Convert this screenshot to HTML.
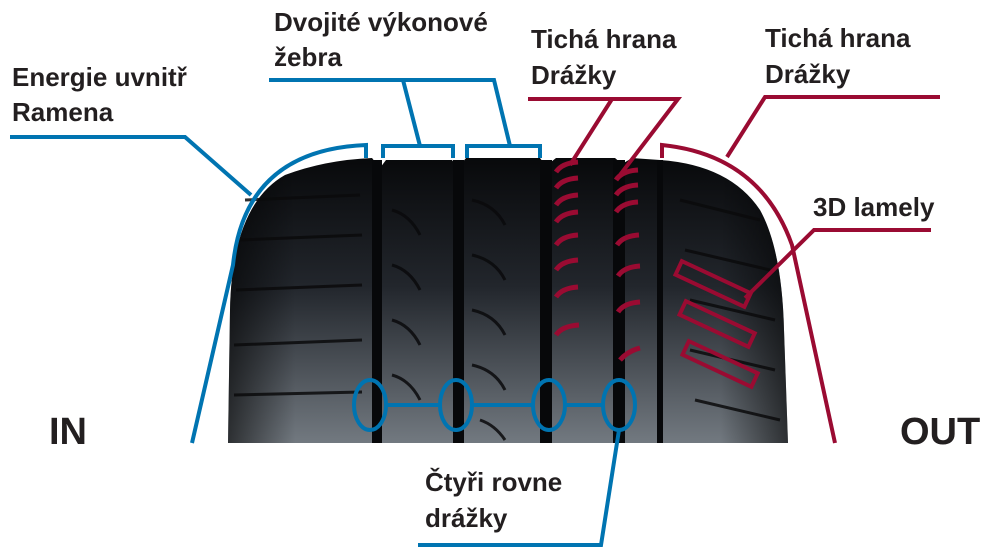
<!DOCTYPE html>
<html><head><meta charset="utf-8"><style>
html,body{margin:0;padding:0;background:#fff;}
svg{display:block;}
text{font-family:"Liberation Sans",sans-serif;font-weight:bold;fill:#231f20;}
</style></head><body>
<svg width="995" height="553" viewBox="0 0 995 553" xmlns="http://www.w3.org/2000/svg">
<defs>
<linearGradient id="tg" x1="0" y1="0" x2="0" y2="1">
<stop offset="0" stop-color="#08090b"/><stop offset="0.45" stop-color="#22262c"/><stop offset="1" stop-color="#727980"/>
</linearGradient>
<linearGradient id="hg" x1="0" y1="0" x2="1" y2="0">
<stop offset="0" stop-color="#000" stop-opacity="0.6"/><stop offset="0.12" stop-color="#000" stop-opacity="0"/>
<stop offset="0.88" stop-color="#000" stop-opacity="0"/><stop offset="1" stop-color="#000" stop-opacity="0.6"/>
</linearGradient>
</defs>
<path d="M228,443 L230,310 Q232,205 285,175 Q325,160 372,158 L380,168 L386,160 L452,160 L458,168 L466,158 L540,158 L546,166 L556,158 L615,158 L622,164 L632,158 L660,160 Q730,165 760,210 Q782,250 784,330 L788,443 Z" fill="url(#tg)"/>
<path d="M228,443 L230,310 Q232,205 285,175 Q325,160 372,158 L380,168 L386,160 L452,160 L458,168 L466,158 L540,158 L546,166 L556,158 L615,158 L622,164 L632,158 L660,160 Q730,165 760,210 Q782,250 784,330 L788,443 Z" fill="url(#hg)"/>
<g fill="#07080a">
<rect x="372" y="160" width="10" height="283"/>
<rect x="453" y="160" width="11" height="283"/>
<rect x="540" y="160" width="12" height="283"/>
<rect x="613" y="160" width="12" height="283"/>
<rect x="657" y="160" width="6" height="283"/>
</g>
<g stroke="#0a0a0c" stroke-width="3" fill="none" opacity="0.85">
<path d="M245,200 L360,195 M240,240 L362,235 M236,290 L362,285 M234,345 L362,340 M234,395 L362,392"/>
<path d="M392,210 Q410,215 420,235 M392,265 Q410,270 420,290 M392,320 Q410,325 420,345 M392,375 Q410,380 420,400"/>
<path d="M472,200 Q495,205 505,225 M472,255 Q495,260 505,280 M472,310 Q495,315 505,335 M472,365 Q495,370 505,390 M480,420 Q495,425 505,440"/>
<path d="M680,200 L760,220 M685,250 L770,270 M690,300 L775,320 M690,350 L775,370 M695,400 L780,420"/>
</g>
<g stroke="#0074b1" stroke-width="4" fill="none">
<path d="M10,137 L185,137 L251,195"/>
<path d="M192,443 L233,265 Q245,150 366,145 L366,158"/>
<path d="M383,158 L383,146 L453,146 L453,158 M467,158 L467,146 L540,146 L540,158"/>
<path d="M269,80 L494,80 L510,146 M403,80 L420,146"/>
<ellipse cx="370" cy="405" rx="16" ry="25"/>
<ellipse cx="456" cy="405" rx="16" ry="25"/>
<ellipse cx="549" cy="405" rx="16" ry="25"/>
<ellipse cx="619" cy="405" rx="16" ry="25"/>
<path d="M386,405 L440,405 M472,405 L533,405 M565,405 L603,405"/>
<path d="M619,430 L601,545 L418,545"/>
</g>
<g stroke="#9a0b32" stroke-width="4" fill="none">
<path d="M528,99 L678,99 L620,175 M612,99 L570,165"/>
<path d="M940,97 L765,97 L727,157"/>
<path d="M662,158 L662,145 Q760,155 792,245 L835,443"/>
<path d="M931,230 L814,230 L745,298"/>
<g transform="rotate(25 712 284)"><rect x="675" y="276" width="76" height="15"/></g>
<g transform="rotate(25 716 324)"><rect x="679" y="316" width="76" height="15"/></g>
<g transform="rotate(25 719 364)"><rect x="682" y="356" width="76" height="15"/></g>
<g stroke-width="5">
<path d="M556,172 Q562,163 578,162 M556,188 Q562,179 578,178 M556,205 Q562,196 578,195 M556,222 Q562,213 578,212 M556,245 Q562,236 578,235 M556,270 Q562,261 578,260 M556,297 Q562,288 578,287 M556,335 Q562,326 579,325"/>
<path d="M616,180 Q622,171 638,170 M616,195 Q622,186 638,185 M616,212 Q622,203 638,202 M617,245 Q623,236 639,235 M618,276 Q624,267 640,266 M618,312 Q624,303 640,302 M620,360 Q628,351 640,348"/>
</g>
</g>
<g font-size="26">
<text x="12" y="86">Energie uvnitř</text>
<text x="12" y="121">Ramena</text>
<text x="274" y="31">Dvojité výkonové</text>
<text x="274" y="66">žebra</text>
<text x="531" y="48">Tichá hrana</text>
<text x="531" y="84">Drážky</text>
<text x="765" y="47">Tichá hrana</text>
<text x="765" y="83">Drážky</text>
<text x="813" y="216">3D lamely</text>
<text x="425" y="491">Čtyři rovne</text>
<text x="425" y="527">drážky</text>
</g>
<text x="49" y="444" font-size="38">IN</text>
<text x="900" y="444" font-size="38">OUT</text>
</svg>
</body></html>
